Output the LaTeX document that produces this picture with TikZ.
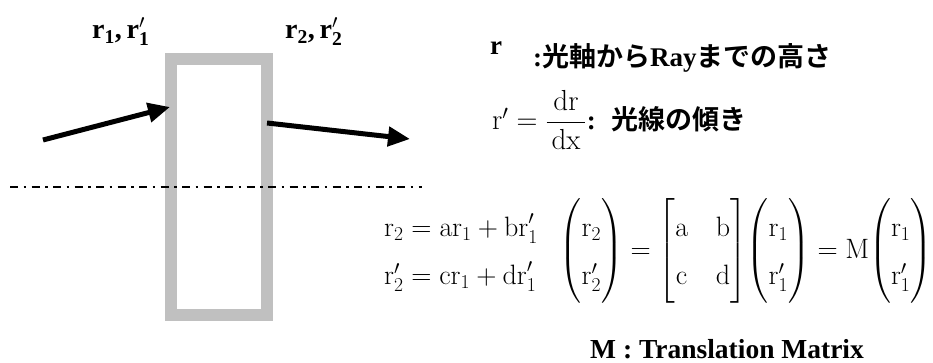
\RequirePackage{fix-cm}
\documentclass[tikz,border=0pt]{standalone}
\usepackage{amsmath}
\usepackage[no-math]{fontspec}
\setmainfont{Liberation Serif}
\newfontfamily\jpfont{Noto Sans CJK JP}[BoldFont={Noto Sans CJK JP Bold}]
\usetikzlibrary{arrows.meta}
\definecolor{lensgray}{RGB}{192,192,192}
\renewcommand{\arraystretch}{1.37}

\begin{document}
\begin{tikzpicture}[x=1pt,y=-1pt,
  ray/.style={-{Triangle[length=22pt,width=19pt]},line width=5pt},
  lab/.style={inner sep=0pt,font=\fontsize{27}{32}\selectfont\bfseries},
  eqn/.style={inner sep=0pt,font=\fontsize{28}{35}\selectfont}]
  \useasboundingbox (0,0) rectangle (933,363);
  % Lens
  \draw[lensgray,line width=12pt] (171,59) rectangle (267,315);
  % Optical axis
  \coordinate (axisL) at (10,187);
  \coordinate (axisR) at (422,187);
  \draw[line width=2pt,dash pattern=on 8pt off 5.5pt on 2.5pt off 5.5pt] (axisL)--(axisR);
  % Rays
  \coordinate (inS) at (43,140);
  \coordinate (inE) at (170,107);
  \coordinate (outS) at (267,123);
  \coordinate (outE) at (410,139);
  \draw[ray] (inS)--(inE);
  \draw[ray] (outS)--(outE);
  \node[lab,anchor=base west,font=\fontsize{28}{32}\selectfont\bfseries] (rin) at (92,39) {$\text{r}_{\text{1}}$,\,$\text{r}_{\text{1}}^{\prime}$};
  \node[lab,anchor=base west,font=\fontsize{28}{32}\selectfont\bfseries] (rout) at (285,39) {$\text{r}_{\text{2}}$,\,$\text{r}_{\text{2}}^{\prime}$};
  % Definitions
  \node[lab,anchor=base west] (rdef) at (490,55) {r};
  \node[lab,anchor=base west] (rtext) at (533,67) {:{\jpfont 光軸から}Ray{\jpfont までの高さ}};
  \node[eqn,anchor=base west,font=\fontsize{29}{35}\selectfont] (slope) at (492,130) {$\mathrm{r}'=\dfrac{\,\mathrm{dr}\,}{\,\mathrm{dx}\,}$};
  \node[lab,anchor=base west,font=\fontsize{27}{30}\selectfont\bfseries] (slopetext) at (slope.base east) {:\hspace{16pt}{\jpfont 光線の傾き}};
  % Matrix form
  \node[eqn,anchor=west] (eqs) at (384,251) {\arraycolsep=14pt
    $\begin{array}{@{}l@{}}
      \mathrm{r}_2=\mathrm{ar}_1+\mathrm{br}_1'\\
      \mathrm{r}_2'=\mathrm{cr}_1+\mathrm{dr}_1'
    \end{array}\hspace{22pt}
    {\begin{pmatrix}\mathrm{r}_2\\ \mathrm{r}_2'\end{pmatrix}}
    ={\begin{bmatrix}\mathrm{a}&\mathrm{b}\\ \mathrm{c}&\mathrm{d}\end{bmatrix}}
    {\begin{pmatrix}\mathrm{r}_1\\ \mathrm{r}_1'\end{pmatrix}}
    =\mathrm{M}{\begin{pmatrix}\mathrm{r}_1\\ \mathrm{r}_1'\end{pmatrix}}$};
  \node[lab,anchor=base west,font=\fontsize{27.5}{32}\selectfont\bfseries] (mcap) at (590,358) {M : Translation Matrix};
\end{tikzpicture}
\end{document}
